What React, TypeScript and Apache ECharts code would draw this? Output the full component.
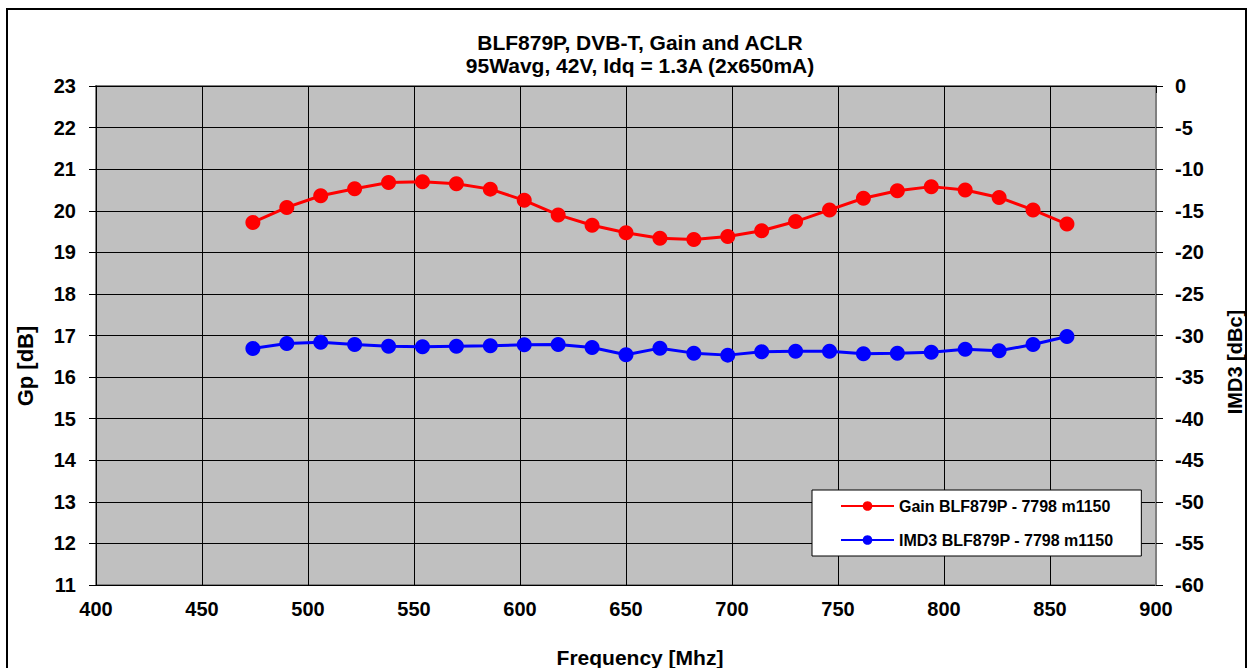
import React, { useEffect, useRef } from "react";
import * as echarts from "echarts";

const frequencies = [474, 490, 506, 522, 538, 554, 570, 586, 602, 618, 634, 650, 666, 682, 698, 714, 730, 746, 762, 778, 794, 810, 826, 842, 858];
const gainValues = [19.72, 20.08, 20.36, 20.53, 20.68, 20.70, 20.65, 20.52, 20.25, 19.90, 19.65, 19.47, 19.34, 19.31, 19.38, 19.52, 19.74, 20.02, 20.30, 20.48, 20.58, 20.50, 20.32, 20.02, 19.68];
const imd3Values = [-31.56, -30.96, -30.80, -31.08, -31.28, -31.36, -31.28, -31.24, -31.12, -31.08, -31.44, -32.32, -31.52, -32.12, -32.36, -31.96, -31.88, -31.88, -32.20, -32.12, -32.00, -31.64, -31.84, -31.08, -30.12];

const titleLines = ["BLF879P, DVB-T, Gain and ACLR", "95Wavg, 42V, Idq = 1.3A (2x650mA)"];
const seriesNames = ["Gain BLF879P - 7798 m1150", "IMD3 BLF879P - 7798 m1150"];
const xAxisName = "Frequency [Mhz]";
const leftAxisName = "Gp [dB]";
const rightAxisName = "IMD3 [dBc]";

const FONT = "'Liberation Sans', Arial, sans-serif";

export default function App() {
  const ref = useRef<HTMLDivElement>(null);
  useEffect(() => {
    if (!ref.current) return;
    const chart = echarts.init(ref.current, undefined, { renderer: "svg" });
    const gainData = frequencies.map((f, i) => [f, gainValues[i]]);
    const imdData = frequencies.map((f, i) => [f, imd3Values[i]]);
    const labelStyle = { color: "#000", fontSize: 20, fontWeight: "bold" as const, fontFamily: FONT };
    chart.setOption({
      animation: false,
      backgroundColor: "#fff",
      textStyle: { fontFamily: FONT },
      grid: {
        left: 96,
        top: 86,
        right: 93,
        bottom: 83,
        show: true,
        backgroundColor: "#c0c0c0",
        borderColor: "#808080",
        borderWidth: 2,
      },
      xAxis: {
        type: "value",
        min: 400,
        max: 900,
        interval: 50,
        axisLine: { show: true, lineStyle: { color: "#000", width: 1 } },
        axisTick: { show: true, length: 7, lineStyle: { color: "#000" } },
        axisLabel: { ...labelStyle, margin: 14 },
        splitLine: { show: true, lineStyle: { color: "#000", width: 1 } },
      },
      yAxis: [
        {
          type: "value",
          min: 11,
          max: 23,
          interval: 1,
          axisLine: { show: true, lineStyle: { color: "#000", width: 1 } },
          axisTick: { show: true, length: 7, lineStyle: { color: "#000" } },
          axisLabel: { ...labelStyle, margin: 20 },
          splitLine: { show: true, lineStyle: { color: "#000", width: 1 } },
        },
        {
          type: "value",
          min: -60,
          max: 0,
          interval: 5,
          position: "right",
          axisLine: { show: true, lineStyle: { color: "#808080", width: 2 } },
          axisTick: { show: true, length: 7, lineStyle: { color: "#000" } },
          axisLabel: { ...labelStyle, margin: 19 },
          splitLine: { show: false },
        },
      ],
      legend: {
        orient: "vertical",
        left: 812,
        top: 490,
        padding: [8, 28, 8, 28],
        itemGap: 18,
        itemWidth: 53,
        itemHeight: 12,
        itemTextGap: 5,
        backgroundColor: "#fff",
        borderColor: "#000",
        borderWidth: 1,
        borderRadius: 0,
        textStyle: { color: "#000", fontSize: 16, fontWeight: "bold", fontFamily: FONT, lineHeight: 16 },
        data: seriesNames,
      },
      series: [
        {
          name: seriesNames[0],
          type: "line",
          yAxisIndex: 0,
          data: gainData,
          symbol: "circle",
          symbolSize: 15,
          lineStyle: { color: "#ff0000", width: 3 },
          itemStyle: { color: "#ff0000" },
          z: 3,
        },
        {
          name: seriesNames[1],
          type: "line",
          yAxisIndex: 1,
          data: imdData,
          symbol: "circle",
          symbolSize: 15,
          lineStyle: { color: "#0000ff", width: 3 },
          itemStyle: { color: "#0000ff" },
          z: 3,
        },
      ],
      graphic: [
        {
          type: "rect",
          shape: { x: 7, y: 9, width: 1239, height: 700 },
          style: { fill: "none", stroke: "#000", lineWidth: 2 },
          silent: true,
        },
        {
          type: "text",
          x: 640,
          y: 42,
          style: { text: titleLines[0], fill: "#000", font: `bold 21px ${FONT}`, textAlign: "center", textVerticalAlign: "middle" },
        },
        {
          type: "text",
          x: 640,
          y: 65,
          style: { text: titleLines[1], fill: "#000", font: `bold 21px ${FONT}`, textAlign: "center", textVerticalAlign: "middle" },
        },
        {
          type: "text",
          x: 640,
          y: 657,
          style: { text: xAxisName, fill: "#000", font: `bold 21px ${FONT}`, textAlign: "center", textVerticalAlign: "middle" },
        },
        {
          type: "text",
          x: 25,
          y: 366,
          rotation: Math.PI / 2,
          style: { text: leftAxisName, fill: "#000", font: `bold 22px ${FONT}`, textAlign: "center", textVerticalAlign: "middle" },
        },
        {
          type: "text",
          x: 1235,
          y: 362,
          rotation: Math.PI / 2,
          style: { text: rightAxisName, fill: "#000", font: `bold 20px ${FONT}`, textAlign: "center", textVerticalAlign: "middle" },
        },
      ],
    });
    return () => chart.dispose();
  }, []);
  return (
    <div
      ref={ref}
      style={{ position: "fixed", left: 0, top: 0, width: 1249, height: 668 }}
    />
  );
}
